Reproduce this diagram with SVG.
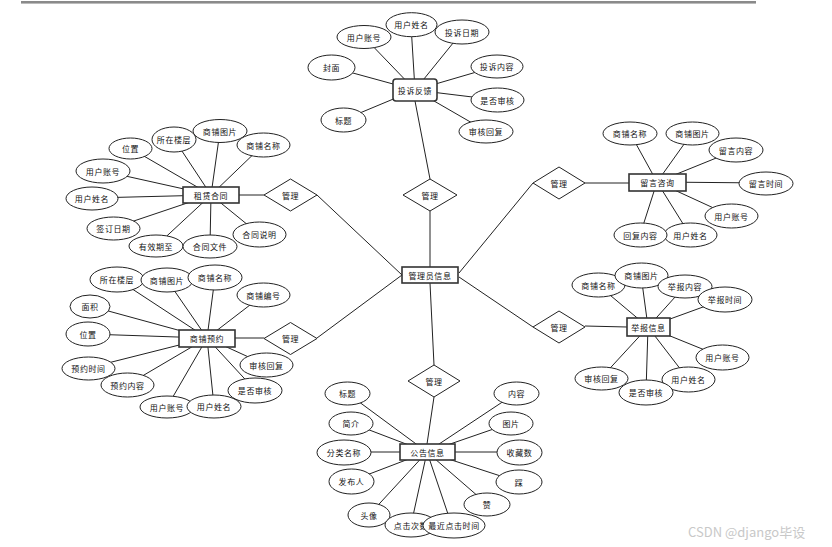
<svg xmlns="http://www.w3.org/2000/svg" width="832" height="547" viewBox="0 0 832 547">
<style>
.bg{fill:#fff}
.ln line{stroke:#222;stroke-width:1}
.at ellipse{fill:#fff;stroke:#222;stroke-width:1}
.en{fill:#fff;stroke:#333;stroke-width:1.6}
.rel{fill:#fff;stroke:#222;stroke-width:1}
text{font-family:"Noto Sans CJK SC","Noto Sans",sans-serif;font-size:8px;letter-spacing:0.6px;fill:#111;text-anchor:middle;dominant-baseline:central}
.wm{font-family:"Noto Sans CJK SC","Liberation Sans",sans-serif;font-size:13px;fill:#c8c8c8;letter-spacing:0;text-anchor:start}
</style>
<rect class="bg" x="0" y="0" width="832" height="547"/>
<rect x="21" y="1" width="735" height="3" fill="#8a8a8a"/>
<line x1="21" y1="3.5" x2="756" y2="3.5" stroke="#bbb" stroke-width="1"/>

<g id="connectors" class="ln">
<!-- complaint -->
<line x1="364" y1="37" x2="415" y2="90"/>
<line x1="411" y1="25" x2="415" y2="90"/>
<line x1="462" y1="32" x2="415" y2="90"/>
<line x1="331" y1="67" x2="415" y2="90"/>
<line x1="343" y1="120" x2="415" y2="90"/>
<line x1="497" y1="66" x2="415" y2="90"/>
<line x1="497" y1="100" x2="415" y2="90"/>
<line x1="486" y1="131" x2="415" y2="90"/>
<line x1="415" y1="101" x2="430" y2="179"/>
<!-- admin to relations -->
<line x1="430" y1="211" x2="430" y2="267"/>
<line x1="317" y1="195" x2="402" y2="275"/>
<line x1="317" y1="338" x2="402" y2="275"/>
<line x1="533" y1="183" x2="459" y2="273"/>
<line x1="533" y1="327" x2="459" y2="277"/>
<line x1="430" y1="283" x2="434" y2="365"/>
<!-- rental -->
<line x1="239" y1="195" x2="264" y2="195"/>
<line x1="130" y1="148" x2="211" y2="195"/>
<line x1="174" y1="139" x2="211" y2="195"/>
<line x1="220" y1="131" x2="211" y2="195"/>
<line x1="263" y1="145" x2="211" y2="195"/>
<line x1="103" y1="171" x2="211" y2="195"/>
<line x1="92" y1="198" x2="211" y2="195"/>
<line x1="113" y1="228" x2="211" y2="195"/>
<line x1="156" y1="246" x2="211" y2="195"/>
<line x1="210" y1="246" x2="211" y2="195"/>
<line x1="259" y1="234" x2="211" y2="195"/>
<!-- reservation -->
<line x1="235" y1="338" x2="264" y2="338"/>
<line x1="117" y1="279" x2="207" y2="338"/>
<line x1="167" y1="280" x2="207" y2="338"/>
<line x1="215" y1="277" x2="207" y2="338"/>
<line x1="263" y1="295" x2="207" y2="338"/>
<line x1="90" y1="306" x2="207" y2="338"/>
<line x1="88" y1="334" x2="207" y2="338"/>
<line x1="88" y1="368" x2="207" y2="338"/>
<line x1="127" y1="385" x2="207" y2="338"/>
<line x1="167" y1="407" x2="207" y2="338"/>
<line x1="214" y1="406" x2="207" y2="338"/>
<line x1="255" y1="390" x2="207" y2="338"/>
<line x1="266" y1="365" x2="207" y2="338"/>
<!-- message -->
<line x1="585" y1="183" x2="629" y2="183"/>
<line x1="630" y1="133" x2="657" y2="182"/>
<line x1="692" y1="133" x2="657" y2="182"/>
<line x1="736" y1="150" x2="657" y2="182"/>
<line x1="766" y1="183" x2="657" y2="182"/>
<line x1="731" y1="216" x2="657" y2="182"/>
<line x1="690" y1="235" x2="657" y2="182"/>
<line x1="640" y1="235" x2="657" y2="182"/>
<!-- report -->
<line x1="585" y1="326" x2="627" y2="327"/>
<line x1="598" y1="285" x2="648" y2="327"/>
<line x1="641" y1="275" x2="648" y2="327"/>
<line x1="685" y1="286" x2="648" y2="327"/>
<line x1="725" y1="299" x2="648" y2="327"/>
<line x1="722" y1="357" x2="648" y2="327"/>
<line x1="688" y1="379" x2="648" y2="327"/>
<line x1="646" y1="392" x2="648" y2="327"/>
<line x1="601" y1="378" x2="648" y2="327"/>
<!-- announcement -->
<line x1="434" y1="397" x2="427" y2="444"/>
<line x1="347" y1="393" x2="427" y2="452"/>
<line x1="351" y1="423" x2="427" y2="452"/>
<line x1="344" y1="452" x2="427" y2="452"/>
<line x1="351" y1="481" x2="427" y2="452"/>
<line x1="369" y1="515" x2="427" y2="452"/>
<line x1="411" y1="525" x2="427" y2="452"/>
<line x1="450" y1="520" x2="427" y2="452"/>
<line x1="487" y1="504" x2="427" y2="452"/>
<line x1="516" y1="393" x2="427" y2="452"/>
<line x1="511" y1="423" x2="427" y2="452"/>
<line x1="519" y1="452" x2="427" y2="452"/>
<line x1="519" y1="482" x2="427" y2="452"/>
</g>

<!-- relationships -->
<g id="rel-complaint"><polygon class="rel" points="430,179 457,195 430,211 403,195"/><text x="430" y="195">管理</text></g>
<g id="rel-rental"><polygon class="rel" points="290.5,179 317,195 290.5,211 264,195"/><text x="290.5" y="195">管理</text></g>
<g id="rel-reservation"><polygon class="rel" points="290.5,322.5 317,338.5 290.5,354.5 264,338.5"/><text x="290.5" y="338.5">管理</text></g>
<g id="rel-message"><polygon class="rel" points="559,167 585,183 559,199 533,183"/><text x="559" y="183">管理</text></g>
<g id="rel-report"><polygon class="rel" points="559,311 585,327 559,343 533,327"/><text x="559" y="327">管理</text></g>
<g id="rel-announcement"><polygon class="rel" points="434,365 460,381 434,397 408,381"/><text x="434" y="381">管理</text></g>

<!-- entities -->
<g id="admin"><rect class="en" x="402" y="267" width="56" height="16"/><text x="430" y="275">管理员信息</text></g>
<g id="complaint"><rect class="en" x="393" y="79" width="44" height="22" rx="3"/><text x="415" y="90">投诉反馈</text></g>
<g id="rental"><rect class="en" x="183" y="187" width="56" height="16"/><text x="211" y="195">租赁合同</text></g>
<g id="reservation"><rect class="en" x="179" y="330" width="56" height="17"/><text x="207" y="338.5">商铺预约</text></g>
<g id="message"><rect class="en" x="629" y="174" width="57" height="17"/><text x="657.5" y="182.5">留言咨询</text></g>
<g id="report"><rect class="en" x="627" y="318" width="43" height="18"/><text x="648.5" y="327">举报信息</text></g>
<g id="announcement"><rect class="en" x="400" y="444" width="55" height="16"/><text x="427.5" y="452">公告信息</text></g>

<!-- complaint attributes -->
<g class="at" id="complaint-attrs">
<g id="c-acc"><ellipse cx="364" cy="37" rx="27" ry="11.5"/><text x="364" y="37">用户账号</text></g>
<g id="c-name"><ellipse cx="411.5" cy="24.7" rx="25.5" ry="12"/><text x="411.5" y="24.7">用户姓名</text></g>
<g id="c-date"><ellipse cx="462" cy="32" rx="27" ry="12"/><text x="462" y="32">投诉日期</text></g>
<g id="c-cover"><ellipse cx="331.5" cy="67.5" rx="23.5" ry="12.5"/><text x="331.5" y="67.5">封面</text></g>
<g id="c-title"><ellipse cx="343.5" cy="120" rx="22.5" ry="12"/><text x="343.5" y="120">标题</text></g>
<g id="c-content"><ellipse cx="497" cy="66.5" rx="26" ry="11.5"/><text x="497" y="66.5">投诉内容</text></g>
<g id="c-audit"><ellipse cx="497.5" cy="100" rx="26.5" ry="12"/><text x="497.5" y="100">是否审核</text></g>
<g id="c-reply"><ellipse cx="486" cy="131.5" rx="27" ry="11.5"/><text x="486" y="131.5">审核回复</text></g>
</g>

<!-- rental attributes -->
<g class="at" id="rental-attrs">
<g id="r-loc"><ellipse cx="130.5" cy="148.5" rx="21.5" ry="10.5"/><text x="130.5" y="148.5">位置</text></g>
<g id="r-floor"><ellipse cx="174" cy="139.5" rx="22" ry="12.5"/><text x="174" y="139.5">所在楼层</text></g>
<g id="r-img"><ellipse cx="220" cy="131" rx="27" ry="11.5"/><text x="220" y="131">商铺图片</text></g>
<g id="r-shop"><ellipse cx="263.5" cy="145" rx="26.5" ry="12"/><text x="263.5" y="145">商铺名称</text></g>
<g id="r-acc"><ellipse cx="103" cy="171" rx="27" ry="12"/><text x="103" y="171">用户账号</text></g>
<g id="r-name"><ellipse cx="92" cy="198.5" rx="26" ry="11.5"/><text x="92" y="198.5">用户姓名</text></g>
<g id="r-sign"><ellipse cx="113.5" cy="228.5" rx="26.5" ry="11.5"/><text x="113.5" y="228.5">签订日期</text></g>
<g id="r-valid"><ellipse cx="156" cy="246" rx="27" ry="11"/><text x="156" y="246">有效期至</text></g>
<g id="r-file"><ellipse cx="210" cy="246.5" rx="27" ry="11.5"/><text x="210" y="246.5">合同文件</text></g>
<g id="r-desc"><ellipse cx="259.5" cy="234.5" rx="26.5" ry="12.5"/><text x="259.5" y="234.5">合同说明</text></g>
</g>

<!-- reservation attributes -->
<g class="at" id="reservation-attrs">
<g id="v-floor"><ellipse cx="117" cy="279.5" rx="27" ry="12.5"/><text x="117" y="279.5">所在楼层</text></g>
<g id="v-img"><ellipse cx="167" cy="280" rx="26" ry="12"/><text x="167" y="280">商铺图片</text></g>
<g id="v-shop"><ellipse cx="215" cy="277.5" rx="27" ry="12.5"/><text x="215" y="277.5">商铺名称</text></g>
<g id="v-no"><ellipse cx="263.5" cy="295" rx="26.5" ry="12"/><text x="263.5" y="295">商铺编号</text></g>
<g id="v-area"><ellipse cx="90" cy="306.5" rx="20" ry="11.5"/><text x="90" y="306.5">面积</text></g>
<g id="v-loc"><ellipse cx="88" cy="334" rx="22" ry="12"/><text x="88" y="334">位置</text></g>
<g id="v-time"><ellipse cx="88.5" cy="368.5" rx="26.5" ry="11.5"/><text x="88.5" y="368.5">预约时间</text></g>
<g id="v-content"><ellipse cx="127.5" cy="385" rx="26.5" ry="12"/><text x="127.5" y="385">预约内容</text></g>
<g id="v-acc"><ellipse cx="167" cy="407" rx="27" ry="11"/><text x="167" y="407">用户账号</text></g>
<g id="v-name"><ellipse cx="214" cy="406.5" rx="27" ry="11.5"/><text x="214" y="406.5">用户姓名</text></g>
<g id="v-audit"><ellipse cx="255" cy="390.5" rx="27" ry="12.5"/><text x="255" y="390.5">是否审核</text></g>
<g id="v-reply"><ellipse cx="266.5" cy="365" rx="26.5" ry="12"/><text x="266.5" y="365">审核回复</text></g>
</g>

<!-- message attributes -->
<g class="at" id="message-attrs">
<g id="m-shop"><ellipse cx="630" cy="133.5" rx="27" ry="11.5"/><text x="630" y="133.5">商铺名称</text></g>
<g id="m-img"><ellipse cx="692.5" cy="133.5" rx="26.5" ry="11.5"/><text x="692.5" y="133.5">商铺图片</text></g>
<g id="m-content"><ellipse cx="736" cy="150" rx="27" ry="12"/><text x="736" y="150">留言内容</text></g>
<g id="m-time"><ellipse cx="766" cy="183.5" rx="27" ry="11.5"/><text x="766" y="183.5">留言时间</text></g>
<g id="m-acc"><ellipse cx="731.5" cy="216" rx="26.5" ry="12"/><text x="731.5" y="216">用户账号</text></g>
<g id="m-name"><ellipse cx="690.5" cy="235" rx="26.5" ry="12"/><text x="690.5" y="235">用户姓名</text></g>
<g id="m-reply"><ellipse cx="640.5" cy="235" rx="26.5" ry="12"/><text x="640.5" y="235">回复内容</text></g>
</g>

<!-- report attributes -->
<g class="at" id="report-attrs">
<g id="p-shop"><ellipse cx="598.5" cy="285" rx="26.5" ry="12"/><text x="598.5" y="285">商铺名称</text></g>
<g id="p-img"><ellipse cx="641.5" cy="275.5" rx="26.5" ry="12.5"/><text x="641.5" y="275.5">商铺图片</text></g>
<g id="p-content"><ellipse cx="685" cy="286.5" rx="27" ry="11.5"/><text x="685" y="286.5">举报内容</text></g>
<g id="p-time"><ellipse cx="725" cy="299.5" rx="27" ry="12.5"/><text x="725" y="299.5">举报时间</text></g>
<g id="p-acc"><ellipse cx="722.5" cy="357.5" rx="26.5" ry="12.5"/><text x="722.5" y="357.5">用户账号</text></g>
<g id="p-name"><ellipse cx="688.5" cy="379.5" rx="26.5" ry="12.5"/><text x="688.5" y="379.5">用户姓名</text></g>
<g id="p-audit"><ellipse cx="646" cy="392.5" rx="27" ry="12.5"/><text x="646" y="392.5">是否审核</text></g>
<g id="p-reply"><ellipse cx="601.5" cy="378.5" rx="26.5" ry="11.5"/><text x="601.5" y="378.5">审核回复</text></g>
</g>

<!-- announcement attributes -->
<g class="at" id="announcement-attrs">
<g id="a-title"><ellipse cx="347.5" cy="393.5" rx="22.5" ry="11.5"/><text x="347.5" y="393.5">标题</text></g>
<g id="a-intro"><ellipse cx="351" cy="423.5" rx="22" ry="11.5"/><text x="351" y="423.5">简介</text></g>
<g id="a-cat"><ellipse cx="344" cy="452.5" rx="27" ry="12.5"/><text x="344" y="452.5">分类名称</text></g>
<g id="a-pub"><ellipse cx="351.5" cy="481.5" rx="22.5" ry="12.5"/><text x="351.5" y="481.5">发布人</text></g>
<g id="a-avatar"><ellipse cx="369" cy="515" rx="21" ry="12"/><text x="369" y="515">头像</text></g>
<g id="a-clicks"><ellipse cx="411" cy="525" rx="26" ry="12"/><text x="411" y="525">点击次数</text></g>
<g id="a-last"><ellipse cx="454" cy="525.5" rx="31" ry="12.5"/><text x="454" y="525.5">最近点击时间</text></g>
<g id="a-like"><ellipse cx="487" cy="504.5" rx="23" ry="11.5"/><text x="487" y="504.5">赞</text></g>
<g id="a-content"><ellipse cx="516.5" cy="393.5" rx="22.5" ry="11.5"/><text x="516.5" y="393.5">内容</text></g>
<g id="a-img"><ellipse cx="511" cy="423.5" rx="22" ry="11.5"/><text x="511" y="423.5">图片</text></g>
<g id="a-fav"><ellipse cx="519.5" cy="452.5" rx="22.5" ry="12.5"/><text x="519.5" y="452.5">收藏数</text></g>
<g id="a-dislike"><ellipse cx="519" cy="482" rx="23" ry="12"/><text x="519" y="482">踩</text></g>
</g>

<text class="wm" x="688" y="531">CSDN @django毕设</text>
</svg>
